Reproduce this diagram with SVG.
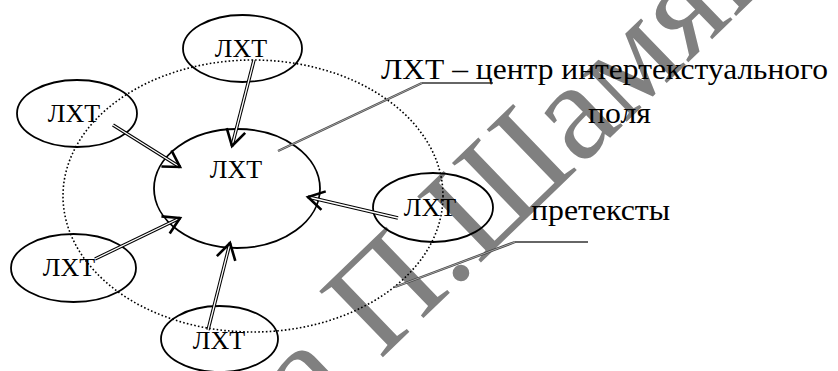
<svg xmlns="http://www.w3.org/2000/svg" width="838" height="371" viewBox="0 0 838 371">
<defs>
<marker id="v" markerUnits="userSpaceOnUse" orient="auto" refX="0" refY="0" markerWidth="40" markerHeight="40" viewBox="-20 -20 40 40" overflow="visible">
<path d="M-16,-9.5 L0,0 L-16,9.5" fill="none" stroke="#000" stroke-width="2.6"/>
</marker>
</defs>
<rect width="838" height="371" fill="#fff"/>
<g id="watermark">
<text font-family="Liberation Serif" font-size="140" fill="#808080" transform="translate(380,360) rotate(-44)" x="-97" y="0">а П.Шамяк</text>
</g>
<g id="field">
<ellipse cx="253" cy="196" rx="190" ry="136" fill="none" stroke="#000" stroke-width="1.6" stroke-dasharray="1.6 2.2"/>
</g>
<g id="center">
<ellipse cx="237" cy="188.5" rx="83" ry="59.5" fill="none" stroke="#000" stroke-width="1.8"/>
<text font-family="Liberation Serif" font-size="26" fill="#000" x="236" y="178" text-anchor="middle">ЛХТ</text>
</g>
<g id="n-top">
<ellipse cx="242.5" cy="48.5" rx="59.5" ry="33.5" fill="none" stroke="#000" stroke-width="1.8"/>
<text font-family="Liberation Serif" font-size="26" fill="#000" x="241" y="57" text-anchor="middle">ЛХТ</text>
</g>
<g id="n-lefttop">
<ellipse cx="77" cy="113.5" rx="60" ry="33.5" fill="none" stroke="#000" stroke-width="1.8"/>
<text font-family="Liberation Serif" font-size="26" fill="#000" x="74" y="122" text-anchor="middle">ЛХТ</text>
</g>
<g id="n-leftbottom">
<ellipse cx="73.5" cy="268" rx="62.5" ry="34" fill="none" stroke="#000" stroke-width="1.8"/>
<text font-family="Liberation Serif" font-size="26" fill="#000" x="69" y="276" text-anchor="middle">ЛХТ</text>
</g>
<g id="n-bottom">
<ellipse cx="219.5" cy="339" rx="58.5" ry="33" fill="none" stroke="#000" stroke-width="1.8"/>
<text font-family="Liberation Serif" font-size="26" fill="#000" x="219" y="349" text-anchor="middle">ЛХТ</text>
</g>
<g id="n-right">
<ellipse cx="433" cy="207.5" rx="60" ry="34.5" fill="none" stroke="#000" stroke-width="1.8"/>
<text font-family="Liberation Serif" font-size="26" fill="#000" x="430" y="216" text-anchor="middle">ЛХТ</text>
</g>
<g id="connectors" fill="none">
<g stroke="#000" stroke-width="3.4">
<line x1="254" y1="60" x2="232" y2="146"/>
<line x1="113" y1="125" x2="180" y2="167"/>
<line x1="95" y1="259" x2="180" y2="218"/>
<line x1="208" y1="330" x2="230" y2="243"/>
<line x1="398" y1="218" x2="308" y2="197"/>
</g>
<g stroke="#fff" stroke-width="1.3" marker-end="url(#v)">
<line x1="254" y1="60" x2="232" y2="146"/>
<line x1="113" y1="125" x2="180" y2="167"/>
<line x1="95" y1="259" x2="180" y2="218"/>
<line x1="208" y1="330" x2="230" y2="243"/>
<line x1="398" y1="218" x2="308" y2="197"/>
</g>
<g stroke="#444" stroke-width="2.4">
<path d="M278,151 L422,83"/>
<path d="M395,287 L515,242"/>
</g>
<g stroke="#bbb" stroke-width="0.8">
<path d="M278,151 L422,83"/>
<path d="M395,287 L515,242"/>
</g>
<g stroke="#333" stroke-width="1.6">
<path d="M422,83 L493,83"/>
<path d="M515,242 L588,242"/>
</g>
</g>
<g id="labels">
<text font-family="Liberation Serif" font-size="30" fill="#000" x="381" y="79" textLength="447" lengthAdjust="spacingAndGlyphs">ЛХТ – центр интертекстуального</text>
<text font-family="Liberation Serif" font-size="30" fill="#000" x="588" y="123" textLength="63" lengthAdjust="spacingAndGlyphs">поля</text>
<text font-family="Liberation Serif" font-size="30" fill="#000" x="531" y="220" textLength="139" lengthAdjust="spacingAndGlyphs">претексты</text>
</g>
</svg>
